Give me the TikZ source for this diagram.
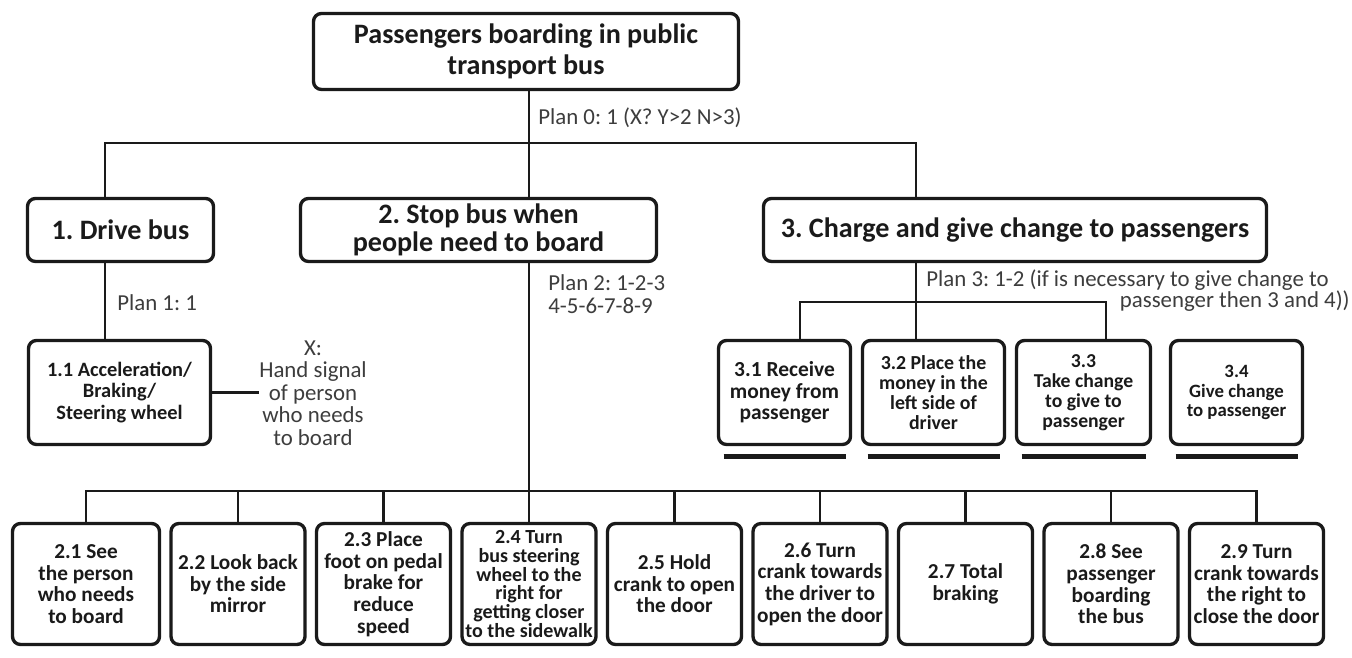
\documentclass[tikz,border=0pt]{standalone}
\usepackage{fontspec}
\setmainfont{Carlito}
\usepackage{tikz}
\usetikzlibrary{positioning}
\definecolor{inkblack}{HTML}{1A1A1A}
\definecolor{plangray}{HTML}{3D3D3D}

\begin{document}
\frenchspacing
\begin{tikzpicture}[
  x=0.2mm, y=-0.2mm,
  node distance=2.3mm and 2.3mm,
  task/.style={rectangle, rounded corners=1.6mm, draw=inkblack, line width=1.9pt,
               fill=white, align=center, inner sep=0.5mm, outer sep=0pt, text=inkblack},
  goal/.style={task, minimum height=12.6mm, font=\fontsize{16}{16.3}\selectfont\bfseries},
  subtask/.style={task, minimum width=26.8mm, minimum height=24.2mm,
                  font=\fontsize{12.1}{12.3}\selectfont\bfseries},
  paytask/.style={task, minimum height=20.8mm, font=\fontsize{12.2}{12.3}\selectfont\bfseries},
  plan/.style={inner sep=0pt, text=plangray, font=\fontsize{13}{12.8}\selectfont},
  link/.style={draw=inkblack, line width=1.2pt},
  payline/.style={draw=inkblack, line width=2.6pt}
]
  \fill[white] (0,0) rectangle (1352,658);
  \useasboundingbox (0,0) rectangle (1352,658);

  % goal and first level
  \node[goal, minimum width=85mm, minimum height=15.2mm,
        font=\fontsize{16}{17.5}\selectfont\bfseries] (top) at (526,51.5)
        {Passengers boarding in public\\transport bus};
  \node[goal, minimum width=37.2mm] (drive) at (120.5,230) {1. Drive bus};
  \node[goal, minimum width=71.2mm] (stop) at (478.5,230) {2. Stop bus when\\people need to board};
  \node[goal, minimum width=100.6mm] (charge) at (1015,230) {3. Charge and give change to passengers};

  % plan 1
  \node[paytask, minimum width=36.4mm, font=\fontsize{11.6}{12.4}\selectfont\bfseries]
        (acc) at (119.5,392.5) {1.1 Acceleration/\\Braking/\\Steering wheel};
  \node[plan, align=center] (signal) at (313,393) {X:\\Hand signal\\of person\\who needs\\to board};

  % plan 3
  \node[paytask, minimum width=26.4mm] (pay1) at (784.5,392.5) {3.1 Receive\\money from\\passenger};
  \node[paytask, minimum width=28.4mm, font=\fontsize{11.3}{11.4}\selectfont\bfseries,
        right=2.4mm of pay1] (pay2) {3.2 Place the\\money in the\\left side of\\driver};
  \node[paytask, minimum width=26.8mm, font=\fontsize{11.2}{11.4}\selectfont\bfseries,
        right=2.4mm of pay2] (pay3) {3.3\\Take change\\to give to\\passenger};
  \node[paytask, minimum width=26.4mm, font=\fontsize{10.7}{11.3}\selectfont\bfseries,
        right=4mm of pay3] (pay4) {3.4\\Give change\\to passenger};

  % plan 2
  \node[subtask, minimum width=29.4mm] (s1) at (86,584) {2.1 See\\the person\\who needs\\to board};
  \node[subtask, right=of s1] (s2) {2.2 Look back\\by the side\\mirror};
  \node[subtask, right=of s2] (s3) {2.3 Place\\foot on pedal\\brake for\\reduce\\speed};
  \node[subtask, right=of s3, font=\fontsize{11.4}{10.8}\selectfont\bfseries] (s4)
        {2.4 Turn\\bus steering\\wheel to the\\right for\\getting closer\\to the sidewalk};
  \node[subtask, right=of s4] (s5) {2.5 Hold\\crank to open\\the door};
  \node[subtask, right=of s5] (s6) {2.6 Turn\\crank towards\\the driver to\\open the door};
  \node[subtask, right=of s6] (s7) {2.7 Total\\braking};
  \node[subtask, right=of s7] (s8) {2.8 See\\passenger\\boarding\\the bus};
  \node[subtask, right=of s8] (s9) {2.9 Turn\\crank towards\\the right to\\close the door};

  % plans
  \node[plan, anchor=west] (plan0) at (538,118) {Plan 0: 1 (X? Y>2 N>3)};
  \node[plan, anchor=west] (plan1) at (117,303) {Plan 1: 1};
  \node[plan, anchor=west, align=left] (plan2) at (548,294) {Plan 2: 1-2-3\\4-5-6-7-8-9};
  \node[plan, anchor=west] (plan3a) at (926,280) {Plan 3: 1-2 (if is necessary to give change to};
  \node[plan, anchor=east] (plan3b) at (1350,301) {passenger then 3 and 4))};

  % connectors
  \coordinate (hub0) at (529,143);
  \coordinate (j1) at (105,143);
  \coordinate (j3) at (916,143);
  \coordinate (bar) at (0,491);
  \coordinate (q1) at (800,302);
  \coordinate (q3) at (1106,302);

  \draw[link] (top.south -| hub0) -- (hub0) -- (stop.north -| hub0);
  \draw[link] (drive.north -| j1) -- (j1) -- (j3) -- (charge.north -| j3);
  \draw[link] (drive.south -| j1) -- (acc.north -| j1);
  \draw[link] (acc.east) -- (acc.east -| signal.west);
  \draw[link] (stop.south -| hub0) -- (s4.north -| hub0);
  \draw[link] (s1.north) -- (s1.north |- bar) -- (s9.north |- bar) -- (s9.north);
  \foreach \n in {s2,s3,s5,s6,s7,s8}
    \draw[link] (\n.north) -- (\n.north |- bar);
  \draw[link] (charge.south -| j3) -- (pay2.north -| j3);
  \draw[link] (pay1.north -| q1) -- (q1) -- (q3) -- (pay3.north -| q3);

  \foreach \n in {pay1,pay2,pay3,pay4}
    \draw[payline] ([xshift=1mm, yshift=-2.4mm]\n.south west) -- ([xshift=-1mm, yshift=-2.4mm]\n.south east);
\end{tikzpicture}
\end{document}
